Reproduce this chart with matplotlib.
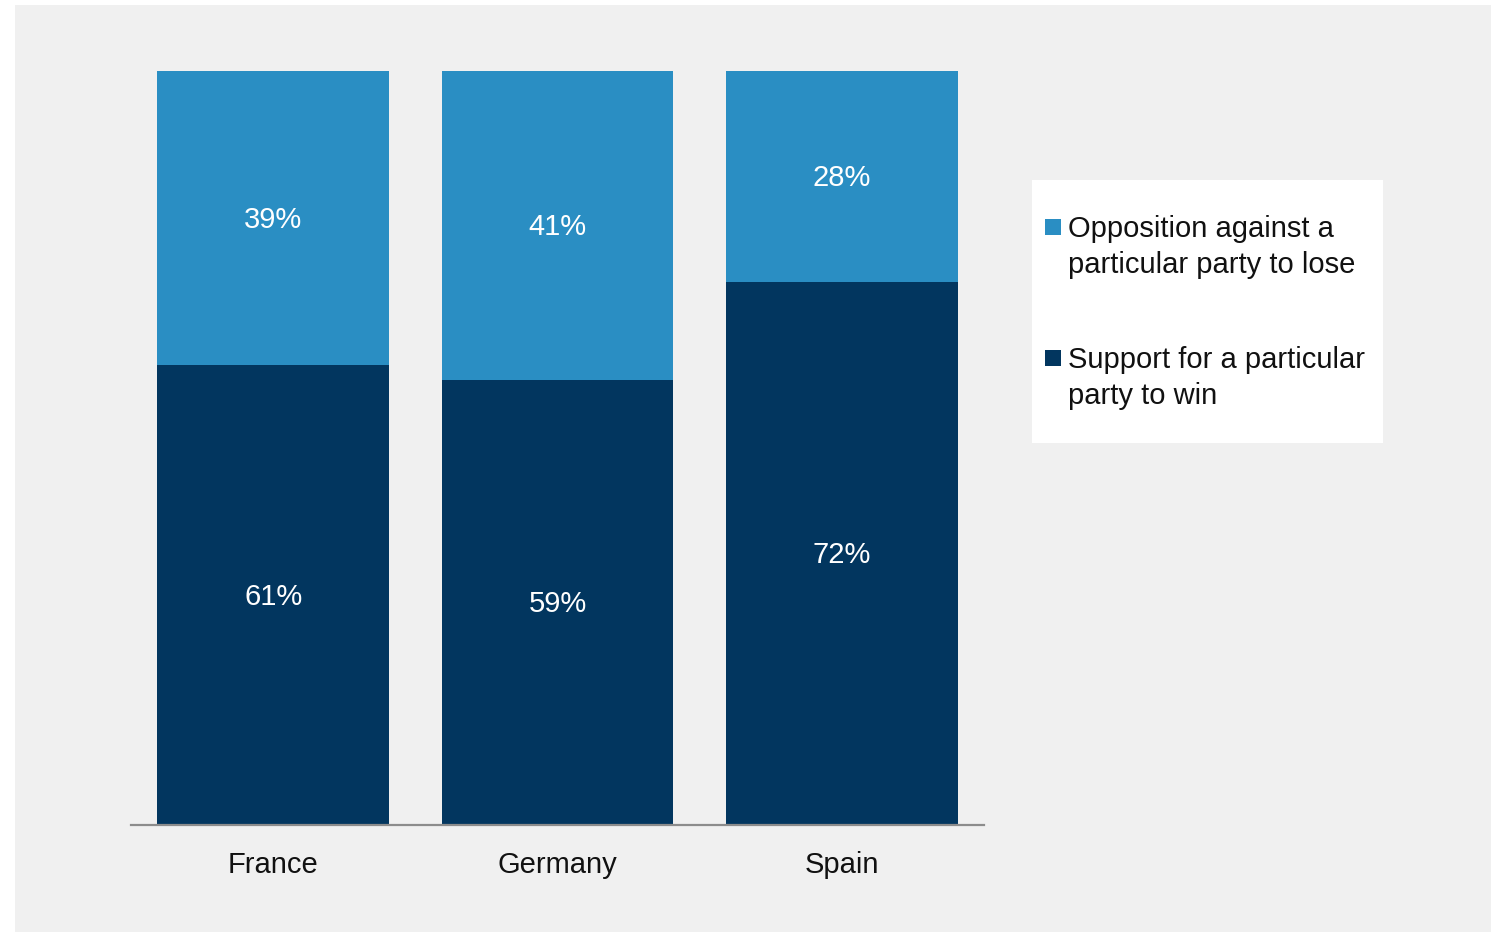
import matplotlib.pyplot as plt
from matplotlib.patches import Rectangle

plt.rcParams['font.family'] = ['Liberation Sans', 'DejaVu Sans']

countries = ['France', 'Germany', 'Spain']
support_win = [61, 59, 72]
oppose_lose = [39, 41, 28]
series_labels = ['Opposition against a\nparticular party to lose',
                 'Support for a particular\nparty to win']
color_dark = '#02365f'
color_light = '#2a8ec3'
bg_color = '#f0f0f0'
fs = 21

fig = plt.figure(figsize=(14.97, 9.32), dpi=100)
fig.patch.set_facecolor('white')

# grey panel behind everything
fig.add_artist(Rectangle((15 / 1497, 0), 1476 / 1497, 927 / 932,
                         transform=fig.transFigure, facecolor=bg_color,
                         edgecolor='none', zorder=-10))

ax = fig.add_axes([131 / 1497, 107 / 932, 853 / 1497, 754 / 932])
ax.set_facecolor('none')

x = range(len(countries))
bars_win = ax.bar(x, support_win, width=0.815, color=color_dark)
bars_lose = ax.bar(x, oppose_lose, width=0.815, bottom=support_win,
                   color=color_light)

for i in x:
    ax.text(i, support_win[i] / 2 - 0.25, f'{support_win[i]}%', ha='center',
            va='center', color='white', fontsize=fs)
    ax.text(i, support_win[i] + oppose_lose[i] / 2 - 0.25, f'{oppose_lose[i]}%',
            ha='center', va='center', color='white', fontsize=fs)

ax.set_xlim(-0.5, 2.5)
ax.set_ylim(0, 100)
ax.set_xticks(list(x))
ax.set_xticklabels(countries, fontsize=fs, color='#111111')
ax.tick_params(axis='x', length=0, pad=18.5)
ax.set_yticks([])
for side in ['left', 'right', 'top']:
    ax.spines[side].set_visible(False)
ax.spines['bottom'].set_color('#8c8c8c')
ax.spines['bottom'].set_linewidth(1.6)

# legend box drawn by hand
W, H = 1497, 932
fig.add_artist(Rectangle((1032 / W, 1 - 443 / H), 351 / W, 263 / H,
                         transform=fig.transFigure, facecolor='white',
                         edgecolor='none'))
legend_colors = [color_light, color_dark]
legend_tops = [219, 350]
legend_mids = [247, 378]
for label, color, top, mid in zip(series_labels, legend_colors,
                                  legend_tops, legend_mids):
    fig.add_artist(Rectangle((1045 / W, 1 - (top + 16) / H), 16 / W, 16 / H,
                             transform=fig.transFigure, facecolor=color,
                             edgecolor='none'))
    fig.text(1068 / W, 1 - mid / H, label, ha='left', va='center',
             fontsize=fs, color='#111111', linespacing=1.38)

fig.savefig('out.png', dpi=100, facecolor=fig.get_facecolor())
